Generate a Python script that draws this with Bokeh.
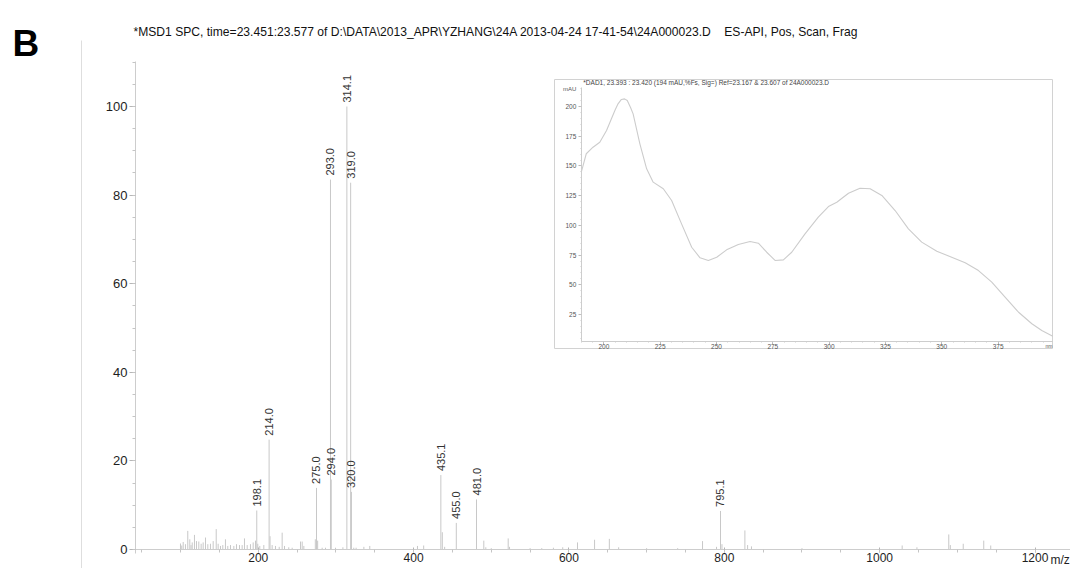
import math
from bokeh.plotting import figure
from bokeh.models import Range1d, SingleIntervalTicker, Label, GridBox, ColumnDataSource, LinearAxis
from bokeh.embed import file_html
from bokeh.resources import INLINE
from bokeh.core.properties import value

# ---------------- data: mass spectrum ----------------
labeled_mz = [198.1, 214.0, 275.0, 293.0, 294.0, 314.1, 319.0, 320.0, 435.1, 455.0, 481.0, 795.1]
labeled_abund = [8.8, 24.8, 13.9, 83.5, 15.8, 100.0, 82.8, 13.0, 16.8, 6.0, 11.3, 8.7]
labeled_text = ["198.1", "214.0", "275.0", "293.0", "294.0", "314.1", "319.0", "320.0",
                "435.1", "455.0", "481.0", "795.1"]

minor_mz = [99.9, 101.5, 103.4, 106.3, 109.3, 111.9, 113.5, 115.0, 117.9, 120.5, 123.5, 126.5,
            129.1, 132.1, 135.1, 138.5, 142.0, 145.9, 148.4, 151.4, 154.4, 157.8, 160.8, 164.3,
            168.6, 172.0, 175.9, 179.3, 182.3, 185.8, 190.0, 193.5, 196.5, 199.4, 202.0, 207.2,
            215.2, 217.9, 222.2, 227.0, 230.8, 233.8, 239.3, 243.7, 254.4, 256.6, 258.7, 273.5,
            276.5, 282.3, 286.6, 299.5, 309.0, 323.0, 326.0, 336.0, 343.6, 405.0, 413.0, 437.0,
            440.0, 490.4, 493.0, 500.0, 521.8, 523.5, 550.0, 565.0, 580.0, 592.0, 611.0, 633.0,
            652.0, 664.0, 700.0, 740.0, 772.0, 790.0, 797.0, 826.5, 830.0, 835.0, 900.0, 1029.0,
            1048.0, 1089.0, 1091.0, 1107.6, 1134.0, 1143.0]
minor_abund = [1.35, 0.9, 1.7, 1.2, 4.2, 2.3, 1.0, 1.6, 3.3, 1.9, 1.8, 1.3,
               1.6, 2.7, 1.2, 1.3, 1.9, 4.6, 1.3, 0.8, 1.0, 2.3, 0.8, 1.0,
               0.8, 1.2, 1.0, 1.0, 2.5, 1.0, 1.2, 1.6, 2.0, 1.3, 0.8, 1.0,
               3.0, 1.0, 0.8, 0.6, 3.8, 0.8, 0.5, 0.4, 1.8, 1.8, 0.8, 2.3,
               2.0, 0.4, 0.4, 0.4, 0.5, 0.4, 0.4, 0.6, 0.8, 0.8, 0.9, 3.9,
               0.6, 2.0, 0.5, 0.3, 2.5, 0.6, 0.3, 0.3, 0.4, 0.5, 1.6, 2.2,
               2.4, 0.5, 0.3, 0.3, 1.9, 0.6, 1.2, 4.3, 1.0, 0.7, 0.3, 0.9,
               0.5, 3.4, 1.0, 1.3, 2.0, 0.9]

# ---------------- data: UV spectrum (inset) ----------------
uv_wavelength = [190.0, 192.2, 195.2, 198.2, 201.2, 204.9, 206.3, 207.8, 209.2, 210.4, 211.9, 213.0,
                 216.0, 219.0, 221.9, 226.4, 230.1, 234.5, 239.0, 242.7, 246.4, 250.1, 254.5, 259.7,
                 264.9, 268.6, 272.3, 276.0, 279.7, 283.4, 289.3, 295.2, 299.7, 303.4, 308.6, 313.7,
                 318.2, 323.4, 329.3, 335.2, 341.1, 347.8, 354.4, 360.4, 366.3, 372.2, 378.1, 384.1,
                 390.0, 394.4, 400.0]
uv_mau = [144.8, 160.3, 165.8, 170.0, 179.9, 196.7, 202.3, 206.0, 206.5, 205.1, 199.0, 193.9,
          168.7, 147.6, 136.4, 130.8, 121.0, 101.3, 81.6, 72.7, 70.5, 73.2, 79.4, 83.9,
          86.4, 85.0, 77.4, 70.5, 71.0, 77.4, 92.9, 106.9, 115.9, 119.5, 127.1, 131.3,
          130.8, 125.2, 112.5, 97.1, 85.9, 78.3, 73.2, 68.5, 62.0, 52.2, 39.6, 26.9,
          17.2, 11.5, 5.9]

main_title = r"*MSD1 SPC, time=23.451:23.577 of D:\DATA\2013_APR\YZHANG\24A 2013-04-24 17-41-54\24A000023.D" \
             + "\u00a0\u00a0\u00a0\u00a0ES-API, Pos, Scan, Frag"
inset_title = "*DAD1, 23.393 : 23.420 (194 mAU,%Fs, Sig=) Ref=23.167 & 23.607 of 24A000023.D"

FONT_NAME = "Liberation Sans"
FONT = value(FONT_NAME)
PEAK_COLOR = "#c8c8c8"
AXIS_COLOR = "#cdcdcd"

# ---------------- main figure (frame fills the figure; axes at fixed positions) ----------------
p = figure(width=1070, height=568, x_range=Range1d(-131.8, 1245.7), y_range=Range1d(-4.29, 123.93),
           output_backend="svg", toolbar_location=None, x_axis_location=None, y_axis_location=None,
           min_border_left=0, min_border_right=0, min_border_top=0, min_border_bottom=0,
           outline_line_color=None, background_fill_color="white", border_fill_color="white")
p.grid.visible = False

xax = LinearAxis(fixed_location=0, bounds=(42.0, 1245.7),
                 ticker=SingleIntervalTicker(interval=200, num_minor_ticks=4))
yax = LinearAxis(fixed_location=42.0, bounds=(-1.0, 110.16),
                 ticker=SingleIntervalTicker(interval=20, num_minor_ticks=4))
rule = LinearAxis(fixed_location=-27.55, bounds=(-4.29, 114.9),
                  ticker=SingleIntervalTicker(interval=1000, num_minor_ticks=0),
                  axis_line_color="#dedede", major_tick_line_color=None, minor_tick_line_color=None,
                  major_label_text_color=None)
p.add_layout(xax, "below")
p.add_layout(yax, "left")
p.add_layout(rule, "left")

for ax in (xax, yax):
    ax.axis_line_color = AXIS_COLOR
    ax.major_tick_line_color = "#b5b5b5"
    ax.minor_tick_line_color = "#c5c5c5"
    ax.major_label_text_color = "#1e1e1e"
    ax.major_label_text_font = FONT_NAME
xax.major_label_text_font_size = "12px"
xax.major_tick_in = 2
xax.major_tick_out = 3
xax.minor_tick_in = 0
xax.minor_tick_out = 3
xax.major_label_standoff = 1
yax.major_label_text_font_size = "13px"
yax.major_tick_in = 0
yax.major_tick_out = 6
yax.minor_tick_in = 0
yax.minor_tick_out = 3
yax.major_label_standoff = 2

minor_src = ColumnDataSource(dict(x=minor_mz, y0=[0] * len(minor_mz), y1=minor_abund))
p.segment(x0="x", y0="y0", x1="x", y1="y1", source=minor_src, line_color=PEAK_COLOR, line_width=1)

lab_src = ColumnDataSource(dict(x=labeled_mz, y0=[0] * len(labeled_mz), y1=labeled_abund, t=labeled_text))
p.segment(x0="x", y0="y0", x1="x", y1="y1", source=lab_src, line_color=PEAK_COLOR, line_width=1)
p.text(x="x", y="y1", text="t", source=lab_src, angle=math.pi / 2, text_align="left",
       text_baseline="middle", y_offset=-4, text_font=FONT, text_font_size="11px", text_color="#333333")

p.add_layout(Label(x=-116.4, y=114.2, text="B", text_font=FONT_NAME, text_font_size="37px",
                   text_font_style="bold", text_color="#000000", text_align="left",
                   text_baseline="alphabetic"))
p.add_layout(Label(x=39.4, y=116.8, text=main_title, text_font=FONT_NAME, text_font_size="12.1px",
                   text_color="#111111", text_align="left", text_baseline="alphabetic"))
p.add_layout(Label(x=1220, y=-0.9, text="m/z", text_font=FONT_NAME, text_font_size="12px",
                   text_color="#1e1e1e", text_align="left", text_baseline="top"))

# ---------------- inset figure ----------------
inset = figure(width=499, height=270, x_range=Range1d(178.1, 399.6), y_range=Range1d(-4.46, 222.8),
               output_backend="svg", toolbar_location=None, x_axis_location=None, y_axis_location=None,
               min_border_left=0, min_border_right=0, min_border_top=0, min_border_bottom=0,
               outline_line_color="#d2d2d2", background_fill_color="white", border_fill_color="white",
               margin=(79, 0, 0, 554))
inset.grid.visible = False
inset.line(uv_wavelength, uv_mau, line_color="#cccccc", line_width=1.1)

ixax = LinearAxis(fixed_location=2.5, bounds=(190.0, 399.6),
                  ticker=SingleIntervalTicker(interval=25, num_minor_ticks=5))
iyax = LinearAxis(fixed_location=190.0, bounds=(2.5, 216.3),
                  ticker=SingleIntervalTicker(interval=25, num_minor_ticks=5))
inset.add_layout(ixax, "below")
inset.add_layout(iyax, "left")
for ax in (ixax, iyax):
    ax.axis_line_color = AXIS_COLOR
    ax.major_tick_line_color = "#b8b8b8"
    ax.minor_tick_line_color = "#cccccc"
    ax.major_label_text_color = "#555555"
    ax.major_label_text_font = FONT_NAME
    ax.major_label_text_font_size = "6.5px"
    ax.major_tick_in = 0
    ax.major_tick_out = 3
    ax.minor_tick_in = 0
    ax.minor_tick_out = 1
ixax.major_label_standoff = 0
iyax.major_label_standoff = 2

inset.add_layout(Label(x=190.9, y=220.5, text=inset_title, text_font=FONT_NAME, text_font_size="6.5px",
                       text_color="#444444", text_align="left", text_baseline="middle"))
inset.add_layout(Label(x=187.8, y=214.4, text="mAU", text_font=FONT_NAME, text_font_size="6px",
                       text_color="#555555", text_align="right", text_baseline="middle"))
inset.add_layout(Label(x=397.6, y=-1.7, text="nm", text_font=FONT_NAME, text_font_size="5px",
                       text_color="#555555", text_align="center", text_baseline="middle"))

layout = GridBox(children=[(p, 0, 0), (inset, 0, 0)])

open("out.html", "w").write(file_html(layout, INLINE))
